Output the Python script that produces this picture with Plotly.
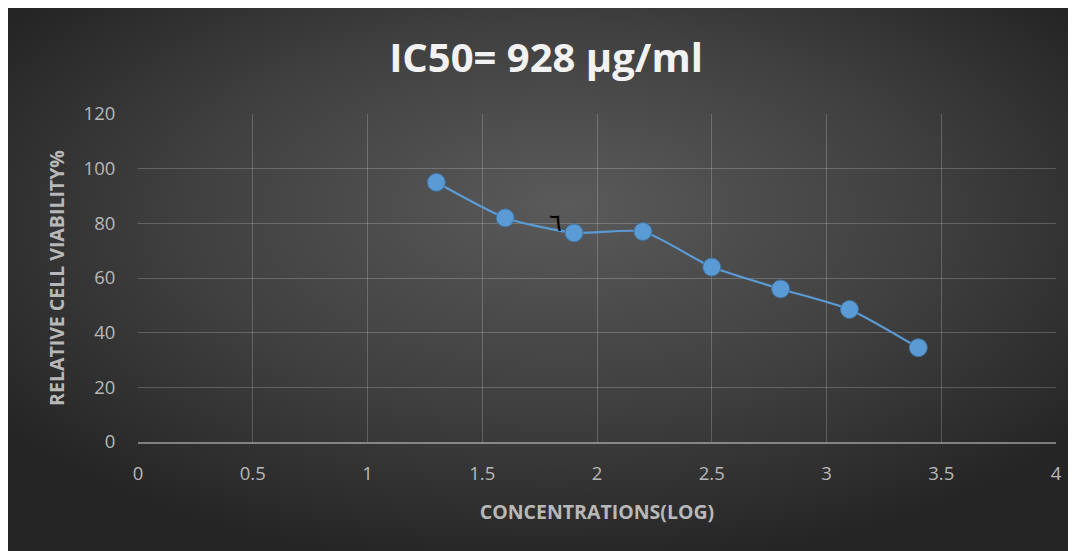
import base64
import plotly.graph_objects as go

# Data
log_conc = [1.3, 1.6, 1.9, 2.2, 2.5, 2.8, 3.1, 3.4]
viability = [95, 82, 76.5, 77, 64, 56, 48.5, 34.5]
x_ticks = [0, 0.5, 1, 1.5, 2, 2.5, 3, 3.5, 4]
y_ticks = [0, 20, 40, 60, 80, 100, 120]

W, H = 1076, 551
OFF = 8  # page body margin
L, R, T, B = 138 - OFF, 1076 - (1056 - OFF), 114 - OFF, 551 - (442 - OFF)
pw, ph = W - L - R, H - T - B

svg = f'''<svg xmlns="http://www.w3.org/2000/svg" width="{W}" height="{H}" viewBox="0 0 {W} {H}" preserveAspectRatio="none">
<defs><radialGradient id="g" cx="50%" cy="40%" r="62%" fx="52%" fy="35%">
<stop offset="0%" stop-color="#5a5a5a"/><stop offset="55%" stop-color="#404040"/><stop offset="100%" stop-color="#252525"/>
</radialGradient></defs>
<rect width="{W}" height="{H}" fill="url(#g)"/></svg>'''
src = "data:image/svg+xml;base64," + base64.b64encode(svg.encode()).decode()

fig = go.Figure()
fig.add_trace(go.Scatter(
    x=log_conc, y=viability, mode="lines+markers",
    line=dict(color="#5b9bd5", width=2.2, shape="spline", smoothing=0.6),
    marker=dict(size=18, color="#5b9bd5", line=dict(color="#41719c", width=1)),
    showlegend=False,
))

fig.add_layout_image(dict(
    source=src, xref="paper", yref="paper",
    x=-L / pw, y=1 + T / ph, sizex=W / pw, sizey=H / ph,
    xanchor="left", yanchor="top", sizing="stretch", layer="below",
))

fig.add_annotation(x=1.817, y=80, text="٦", showarrow=False,
                   font=dict(family="DejaVu Sans", size=24, color="#000000"))

grid = "rgba(255,255,255,0.2)"
tickfont = dict(family="Open Sans", size=18.5, color="#b8b8b8")
titlefont = dict(family="Open Sans", size=19.5, color="#b8b8b8", weight="bold")
fig.update_layout(
    width=W, height=H,
    margin=dict(l=L, r=R, t=T, b=B),
    paper_bgcolor="#2b2b2b", plot_bgcolor="rgba(0,0,0,0)",
    title=dict(text="IC50= 928 µg/ml", x=0.5, xanchor="center",
               y=1 - 50 / H, yanchor="middle",
               font=dict(family="Open Sans", size=40, color="#f2f2f2", weight="bold")),
    xaxis=dict(range=[0, 4], tickvals=x_ticks, ticktext=[f"{v:g}" for v in x_ticks],
               showgrid=True, gridcolor=grid, gridwidth=1,
               showline=True, linecolor="rgba(255,255,255,0.4)", linewidth=2,
               zeroline=False, ticks="outside", ticklen=14, tickcolor="rgba(0,0,0,0)",
               tickfont=tickfont,
               title=dict(text="CONCENTRATIONS(LOG)", standoff=21, font=titlefont)),
    yaxis=dict(range=[0, 120], tickvals=y_ticks,
               showgrid=True, gridcolor=grid, gridwidth=1,
               showline=False, zeroline=False,
               ticks="outside", ticklen=18, tickcolor="rgba(0,0,0,0)",
               tickfont=tickfont,
               title=dict(text="RELATIVE CELL VIABILITY%", standoff=13, font=titlefont)),
)

fig.write_html("out.html")
